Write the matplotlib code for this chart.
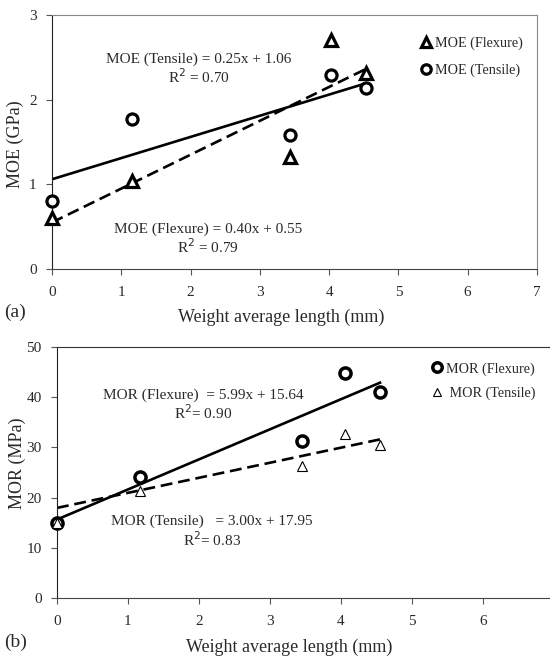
import numpy as np
import matplotlib
matplotlib.use("Agg")
import matplotlib.pyplot as plt

plt.rcParams["font.family"] = ["Liberation Serif", "DejaVu Serif"]

# (a) MOE
moe_x = [0.0, 1.16, 3.43, 4.03, 4.53]
moe_flex = [0.60, 1.04, 1.32, 2.71, 2.32]
moe_tens = [0.80, 1.77, 1.58, 2.29, 2.14]
moe_flex_fit = (0.40, 0.55)
moe_tens_fit = (0.25, 1.06)

# (b) MOR
mor_x = [0.0, 1.17, 3.45, 4.05, 4.55]
mor_flex = [14.9, 24.1, 31.3, 44.8, 41.0]
mor_tens = [15.0, 21.4, 26.3, 32.6, 30.4]
mor_flex_fit = (5.99, 15.64)
mor_tens_fit = (3.00, 17.95)

txt = "#2a2a2a"
fig = plt.figure(figsize=(5.5, 6.6), dpi=100)
ax1 = fig.add_axes([0.0945, 0.5924, 0.8818, 0.3849])
ax2 = fig.add_axes([0.1036, 0.0939, 0.9036, 0.3803])


def fitline(ax, xs, fit, ls):
    xx = np.array([min(xs), max(xs)])
    if ls == "--":
        ax.plot(xx, fit[0] * xx + fit[1], color="black", lw=1.9, ls="--",
                dashes=(4.5, 2.2), zorder=2)
    else:
        ax.plot(xx, fit[0] * xx + fit[1], color="black", lw=1.9, zorder=2)


# panel a
ax1.plot(moe_x, moe_flex, ls="none", marker="^", ms=8.5, mfc="white", mec="black",
         mew=2.3, label="MOE (Flexure)", zorder=3, clip_on=False)
ax1.plot(moe_x, moe_tens, ls="none", marker="o", ms=8, mfc="white", mec="black",
         mew=2.3, label="MOE (Tensile)", zorder=3, clip_on=False)
fitline(ax1, moe_x, moe_tens_fit, "-")
fitline(ax1, moe_x, moe_flex_fit, "--")
ax1.set_xlim(0, 7)
ax1.set_ylim(0, 3)
ax1.set_yticks([0, 1, 2, 3])
ax1.set_ylabel("MOE (GPa)", fontsize=13, color=txt)
ax1.set_xlabel("Weight average length (mm)", fontsize=13, color=txt)
ax1.yaxis.set_label_coords(-0.058, 0.49)
ax1.xaxis.set_label_coords(0.472, -0.155)
ax1.text(2.12, 2.48, "MOE (Tensile) = 0.25x + 1.06", fontsize=11, color=txt,
         ha="center", va="center")
ax1.text(2.12, 2.27, "R$^2$ = 0.70", fontsize=11, color=txt, ha="center", va="center")
ax1.text(2.25, 0.47, "MOE (Flexure) = 0.40x + 0.55", fontsize=11, color=txt,
         ha="center", va="center")
ax1.text(2.25, 0.26, "R$^2$ = 0.79", fontsize=11, color=txt, ha="center", va="center")
ax1.legend(loc="upper left", bbox_to_anchor=(0.757, 0.915), frameon=False,
           fontsize=10.2, handlelength=1.0, handletextpad=0.1, labelspacing=0.95,
           borderpad=0, borderaxespad=0, labelcolor=txt, markerscale=0.85)
fig.text(0.008, 0.526, "(a)", fontsize=14, color=txt, va="center")

# panel b
ax2.plot(mor_x, mor_flex, ls="none", marker="o", ms=8, mfc="white", mec="black",
         mew=2.5, label="MOR (Flexure)", zorder=3, clip_on=False)
ax2.plot(mor_x, mor_tens, ls="none", marker="^", ms=7, mfc="white", mec="black",
         mew=0.8, label=" MOR (Tensile)", zorder=3, clip_on=False)
fitline(ax2, mor_x, mor_flex_fit, "-")
fitline(ax2, mor_x, mor_tens_fit, "--")
ax2.set_xlim(0, 7)
ax2.set_ylim(0, 50)
ax2.set_ylabel("MOR (MPa)", fontsize=13, color=txt)
ax2.set_xlabel("Weight average length (mm)", fontsize=13, color=txt)
ax2.yaxis.set_label_coords(-0.062, 0.535)
ax2.xaxis.set_label_coords(0.467, -0.162)
ax2.text(2.06, 40.4, "MOR (Flexure)  = 5.99x + 15.64", fontsize=11, color=txt,
         ha="center", va="center")
ax2.text(2.06, 36.9, "R$^2$= 0.90", fontsize=11, color=txt, ha="center", va="center")
ax2.text(2.18, 15.2, "MOR (Tensile)   = 3.00x + 17.95", fontsize=11, color=txt,
         ha="center", va="center")
ax2.text(2.18, 11.55, "R$^2$= 0.83", fontsize=11, color=txt, ha="center", va="center")
ax2.legend(loc="upper left", bbox_to_anchor=(0.751, 0.94), frameon=False,
           fontsize=10.2, handlelength=1.0, handletextpad=0.1, labelspacing=0.75,
           borderpad=0, borderaxespad=0, labelcolor=txt, markerscale=0.85)
fig.text(0.008, 0.026, "(b)", fontsize=14, color=txt, va="center")

for ax in (ax1, ax2):
    ax.tick_params(direction="out", length=4, width=0.8, labelsize=11,
                   colors="#555555", labelcolor=txt)
    ax.tick_params(axis="x", pad=8)
    ax.tick_params(axis="y", pad=7)
    ax.spines["left"].set_color("#222222")
    ax.spines["bottom"].set_color("#444444")
    ax.spines["top"].set_color("#888888")
    ax.spines["right"].set_color("#888888")
ax2.spines["top"].set_color("#333333")

fig.savefig("out.png", dpi=100)
